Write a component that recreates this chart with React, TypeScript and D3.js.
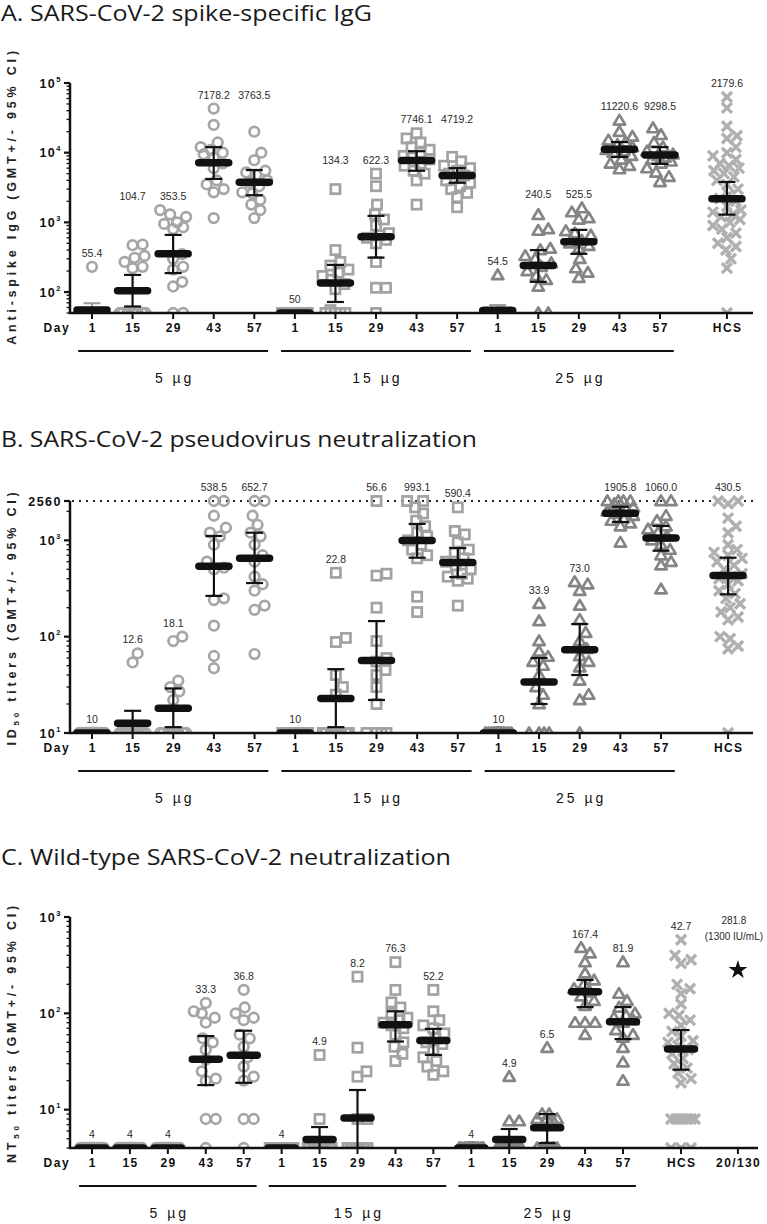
import React from "react";
import * as d3 from "d3";

// ---------- shared categories ----------
const days = ["1", "15", "29", "43", "57"];
const doses = ["5 µg", "15 µg", "25 µg"];

// ---------- A. spike-specific IgG (per dose: days 1,15,29,43,57) ----------
const igg5ug = [
  [230, 50, 50, 50, 50, 50, 50, 50, 50, 50, 50, 50, 50, 50, 50],
  [480, 470, 330, 310, 270, 230, 220, 50, 50, 50, 50, 50, 50, 50, 50],
  [1500, 1300, 1200, 1000, 950, 850, 800, 350, 300, 230, 210, 140, 120, 50, 50],
  [43000, 25000, 14000, 12000, 11000, 10000, 9500, 8500, 7000, 6000, 4000, 3500, 3000, 2700, 1150],
  [20000, 10000, 7800, 5500, 5200, 4800, 4000, 3700, 3300, 2700, 2600, 2100, 1800, 1500, 1150],
];
const igg15ug = [
  [50, 50, 50, 50, 50, 50, 50, 50, 50, 50, 50, 50, 50, 50, 50],
  [3000, 400, 270, 240, 210, 190, 170, 150, 130, 110, 55, 50, 50, 50, 50],
  [5000, 3300, 1800, 1300, 1100, 900, 700, 650, 600, 560, 500, 270, 115, 115, 50],
  [19000, 16000, 14000, 12000, 11000, 10000, 9000, 8500, 8000, 7000, 6500, 5500, 5000, 4000, 1800],
  [8700, 7500, 6500, 6000, 5500, 5000, 4700, 4300, 4000, 3700, 3300, 3000, 2650, 2300, 1650],
];
const igg25ug = [
  [175, 50, 50, 50, 50, 50, 50, 50, 50, 50, 50, 50, 50, 50, 50],
  [1280, 800, 760, 420, 400, 330, 300, 260, 230, 200, 170, 150, 120, 50, 50],
  [1600, 1400, 1150, 1100, 750, 700, 650, 550, 500, 460, 420, 300, 220, 190, 160],
  [29000, 20000, 17000, 15000, 14000, 13000, 12000, 11000, 10500, 10000, 9000, 8000, 7000, 6500, 5800],
  [22500, 18000, 14000, 12000, 10500, 9500, 9000, 8500, 8000, 7500, 7000, 6000, 5200, 4500, 3800],
];
const iggHcs = [
  63000, 44000, 24000, 17500, 16000, 12000, 10000, 9000, 8000, 7000, 6500, 6000, 5500, 5000, 4500, 4000,
  3500, 3000, 2500, 2200, 2000, 1700, 1500, 1400, 1300, 1200, 1100, 1000, 900, 800, 700, 600, 500, 450,
  400, 300, 220, 50,
];
const iggGmt = ["55.4", "104.7", "353.5", "7178.2", "3763.5", "50", "134.3", "622.3", "7746.1", "4719.2", "54.5", "240.5", "525.5", "11220.6", "9298.5", "2179.6"];
const iggLo = [null, 62, 187, 4200, 2450, null, 72, 312, 5500, 3700, null, 140, 353, 8700, 6900, 1290];
const iggHi = [69, 176, 660, 12000, 5640, null, 245, 1240, 10500, 6000, 65, 400, 780, 14200, 12000, 3800];

// ---------- B. pseudovirus ID50 ----------
const pv5ug = [
  [10, 10, 10, 10, 10, 10, 10, 10, 10, 10, 10, 10, 10, 10, 10],
  [67, 54, 10, 10, 10, 10, 10, 10, 10, 10, 10, 10, 10, 10, 10],
  [100, 90, 35, 30, 27, 22, 10, 10, 10, 10, 10, 10, 10, 10, 10],
  [2560, 2560, 1800, 1350, 1200, 1100, 900, 600, 520, 500, 250, 240, 130, 63, 47],
  [2560, 2560, 1800, 1450, 1200, 1100, 900, 700, 600, 420, 350, 300, 210, 190, 66],
];
const pv15ug = [
  [10, 10, 10, 10, 10, 10, 10, 10, 10, 10, 10, 10, 10, 10, 10],
  [460, 97, 88, 40, 30, 25, 10, 10, 10, 10, 10, 10, 10, 10, 10],
  [2560, 450, 430, 200, 90, 60, 55, 45, 40, 30, 20, 10, 10, 10, 10],
  [2560, 2560, 2200, 1900, 1600, 1400, 1200, 1100, 1000, 900, 800, 700, 650, 260, 180],
  [2200, 1250, 1150, 950, 800, 750, 650, 600, 550, 500, 450, 420, 400, 380, 210],
];
const pv25ug = [
  [10, 10, 10, 10, 10, 10, 10, 10, 10, 10, 10, 10, 10, 10, 10],
  [220, 145, 90, 70, 62, 55, 50, 40, 30, 25, 20, 10, 10, 10, 10],
  [370, 350, 300, 210, 150, 110, 90, 75, 63, 55, 48, 35, 25, 22, 10],
  [2560, 2560, 2560, 2560, 2400, 2200, 2100, 2000, 1900, 1800, 1700, 1600, 1500, 1400, 950],
  [2560, 2560, 1800, 1600, 1400, 1300, 1200, 1100, 1000, 900, 800, 700, 600, 550, 310],
];
const pvHcs = [
  2560, 2560, 2400, 1700, 1400, 1200, 900, 800, 750, 700, 650, 600, 550, 500, 450, 420, 400, 380, 350,
  300, 280, 250, 220, 200, 180, 160, 150, 100, 95, 80, 75, 10,
];
const pvGmt = ["10", "12.6", "18.1", "538.5", "652.7", "10", "22.8", "56.6", "993.1", "590.4", "10", "33.9", "73.0", "1905.8", "1060.0", "430.5"];
const pvLo = [null, 9, 11.5, 265, 360, null, 11.5, 22, 660, 415, null, 20, 40, 1550, 780, 275];
const pvHi = [null, 17, 29, 1110, 1200, null, 46, 145, 1480, 830, null, 60, 135, 2230, 1410, 660];

// ---------- C. wild-type NT50 ----------
const wt5ug = [
  [4, 4, 4, 4, 4, 4, 4, 4, 4, 4, 4, 4, 4, 4, 4],
  [4, 4, 4, 4, 4, 4, 4, 4, 4, 4, 4, 4, 4, 4, 4],
  [4, 4, 4, 4, 4, 4, 4, 4, 4, 4, 4, 4, 4, 4, 4],
  [128, 105, 100, 90, 80, 55, 50, 42, 33, 25, 21, 20, 8, 8, 4],
  [175, 115, 100, 90, 85, 60, 55, 45, 35, 28, 22, 20, 8, 8, 4],
];
const wt15ug = [
  [4, 4, 4, 4, 4, 4, 4, 4, 4, 4, 4, 4, 4, 4, 4],
  [37, 8, 4, 4, 4, 4, 4, 4, 4, 4, 4, 4, 4, 4, 4],
  [240, 44, 25, 22, 8, 8, 4, 4, 4, 4, 4, 4, 4, 4, 4],
  [340, 175, 130, 115, 100, 90, 85, 80, 75, 70, 60, 50, 45, 38, 32],
  [175, 105, 85, 75, 70, 62, 55, 50, 48, 42, 35, 32, 28, 25, 23],
];
const wt25ug = [
  [4, 4, 4, 4, 4, 4, 4, 4, 4, 4, 4, 4, 4, 4, 4],
  [22, 7.6, 7.6, 4, 4, 4, 4, 4, 4, 4, 4, 4, 4, 4, 4],
  [44, 9, 9, 8, 8, 8, 8, 4, 4, 4, 4, 4, 4, 4, 4],
  [480, 420, 340, 260, 220, 200, 180, 165, 150, 135, 120, 80, 80, 80, 60],
  [340, 160, 135, 115, 100, 95, 90, 85, 80, 67, 60, 56, 44, 31, 20],
];
const wtHcs = [
  580, 400, 360, 330, 200, 180, 160, 125, 100, 95, 85, 75, 65, 58, 52, 50, 46, 42, 38, 34, 30, 27, 24,
  21, 19, 8, 8, 8, 8, 8, 8, 4, 4, 4,
];
const wtStandard = [281.8];
const wtStandardLabel = ["281.8", "(1300 IU/mL)"];
const wtGmt = ["4", "4", "4", "33.3", "36.8", "4", "4.9", "8.2", "76.3", "52.2", "4", "4.9", "6.5", "167.4", "81.9", "42.7"];
const wtLo = [null, null, null, 18, 19, null, 4, 4, 51, 37, null, 4, 4.5, 116, 54, 26];
const wtHi = [null, null, null, 58, 66, null, 6.6, 16, 105, 69, null, 6.3, 9, 222, 116, 67];

// ---------- helpers ----------
const SANS = "'Liberation Sans', Arial, Helvetica, sans-serif";
const TITLE_FONT = "'Open Sans', Lato, sans-serif";

type Grp = {
  idx: number;
  vals: number[];
  mk: string;
  label: string[];
  lo: number | null;
  hi: number | null;
  gmt: number | null;
  maxOff: number;
};

function swarm(ys: number[], maxOff: number, dist: number): number[] {
  const order = ys.map((y, i) => ({ y, i })).sort((a, b) => b.y - a.y);
  const placed: { x: number; y: number }[] = [];
  const out: number[] = ys.map(() => 0);
  const cands: number[] = [0];
  for (let k = 1; k <= maxOff; k++) cands.push(k, -k);
  for (const p of order) {
    let best = 0;
    let bestD = -1;
    for (const c of cands) {
      let m = Infinity;
      for (const q of placed) {
        const dd = Math.hypot(c - q.x, p.y - q.y);
        if (dd < m) m = dd;
      }
      if (m >= dist) {
        best = c;
        break;
      }
      if (m > bestD + 0.01) {
        bestD = m;
        best = c;
      }
    }
    out[p.i] = best;
    placed.push({ x: best, y: p.y });
  }
  return out;
}

function marker(mk: string, cx: number, cy: number, key: string) {
  switch (mk) {
    case "circle":
      return <circle key={key} cx={cx} cy={cy} r={4.8} fill="none" stroke="#a6a6a6" strokeWidth={2.7} />;
    case "square":
      return <rect key={key} x={cx - 4.6} y={cy - 4.6} width={9.2} height={9.2} fill="none" stroke="#a2a2a2" strokeWidth={2.7} />;
    case "triangle":
      return (
        <path
          key={key}
          d={`M${cx},${cy - 5.6}L${cx + 5.7},${cy + 4.1}L${cx - 5.7},${cy + 4.1}Z`}
          fill="none"
          stroke="#858585"
          strokeWidth={2.7}
          strokeLinejoin="round"
        />
      );
    case "cross":
      return (
        <path
          key={key}
          d={`M${cx - 5},${cy - 5}L${cx + 5},${cy + 5}M${cx + 5},${cy - 5}L${cx - 5},${cy + 5}`}
          stroke="#b0b0b0"
          strokeWidth={3.4}
        />
      );
    default:
      return <path key={key} d={d3.symbol(d3.symbolStar, 110)() || ""} transform={`translate(${cx},${cy})`} fill="#111" />;
  }
}

function buildGroups(
  byDose: number[][][],
  hcs: number[],
  gmt: string[],
  lo: (number | null)[],
  hi: (number | null)[],
  hcsIdx: number,
  doseOff: number,
  hcsOff: number
): Grp[] {
  const mks = ["circle", "square", "triangle"];
  const gs: Grp[] = [];
  byDose.forEach((dose, d) =>
    dose.forEach((vals, k) => {
      const i = d * 5 + k;
      gs.push({ idx: i, vals, mk: mks[d], label: [gmt[i]], lo: lo[i], hi: hi[i], gmt: +gmt[i], maxOff: doseOff });
    })
  );
  gs.push({ idx: hcsIdx, vals: hcs, mk: "cross", label: [gmt[15]], lo: lo[15], hi: hi[15], gmt: +gmt[15], maxOff: hcsOff });
  return gs;
}

type Major = { v: number; exp?: string; text?: string };

interface PanelProps {
  id: string;
  title: string;
  titleY: number;
  titleLen: number;
  domain: number[];
  range: number[];
  x14: number;
  xEnd: number;
  groups: Grp[];
  majors: Major[];
  yTitle: React.ReactNode;
  yTitleShift: number;
  pairLabels: boolean;
  refLine?: number;
  xLabels: { idx: number; text: string }[];
  barHalf: number;
}

function Panel(p: PanelProps) {
  const y = d3.scaleLog().domain(p.domain).range(p.range);
  const x = d3.scaleLinear().domain([0, 14]).range([92, p.x14]);
  const step = (p.x14 - 92) / 14;
  const bottom = p.range[0];
  const top = p.range[1];
  const majorVals = p.majors.map((m) => m.v);
  const minors = y.ticks(20).filter((t) => !majorVals.some((mv) => Math.abs(mv - t) / mv < 1e-6));

  // label positions
  const labelY = p.groups.map((g) => (y(d3.max(g.vals) as number) as number) - 14);
  if (p.pairLabels) {
    for (let d = 0; d < 3; d++) {
      for (const [a, b] of [[1, 2], [3, 4]]) {
        const ia = d * 5 + a;
        const ib = d * 5 + b;
        const m = Math.min(labelY[ia], labelY[ib]);
        labelY[ia] = m;
        labelY[ib] = m;
      }
    }
  }

  const clipId = `clip-${p.id}`;
  const yMid = (top + bottom) / 2 + p.yTitleShift;

  return (
    <g>
      <text
        x={1}
        y={p.titleY}
        fontFamily={TITLE_FONT}
        fontSize={21}
        fill="#1a1a1a"
        textLength={p.titleLen}
        lengthAdjust="spacingAndGlyphs"
      >
        {p.title}
      </text>
      <defs>
        <clipPath id={clipId}>
          <rect x={0} y={top - 40} width={767} height={bottom - top + 40} />
        </clipPath>
      </defs>

      {/* y-axis title */}
      <text
        transform={`translate(16,${yMid}) rotate(-90)`}
        textAnchor="middle"
        fontFamily={SANS}
        fontWeight="bold"
        fontSize={12.5}
        letterSpacing={3.8}
        fill="#222"
      >
        {p.yTitle}
      </text>

      {/* reference line */}
      {p.refLine !== undefined && (
        <line x1={72} x2={753} y1={y(p.refLine)} y2={y(p.refLine)} stroke="#222" strokeWidth={2} strokeDasharray="2 5" />
      )}

      {/* data */}
      <g clipPath={`url(#${clipId})`}>
        {p.groups.map((g, gi) => {
          const cx = x(g.idx);
          const ys = g.vals.map((v) => y(v) as number);
          const offs = swarm(ys, g.maxOff, 10);
          return <g key={`m${gi}`}>{ys.map((yy, k) => marker(g.mk, cx + offs[k], yy, `${gi}-${k}`))}</g>;
        })}
        {p.groups.map((g, gi) => {
          const cx = x(g.idx);
          const els: React.ReactNode[] = [];
          if (g.gmt !== null && g.mk !== "star") {
            if (g.lo !== null && g.hi !== null) {
              els.push(<line key="v" x1={cx} x2={cx} y1={y(g.lo)} y2={y(g.hi)} stroke="#111" strokeWidth={2.2} />);
              els.push(<line key="c1" x1={cx - 8.5} x2={cx + 8.5} y1={y(g.lo)} y2={y(g.lo)} stroke="#111" strokeWidth={2.2} />);
              els.push(<line key="c2" x1={cx - 8.5} x2={cx + 8.5} y1={y(g.hi)} y2={y(g.hi)} stroke="#111" strokeWidth={2.2} />);
            } else if (g.hi !== null) {
              els.push(<line key="v" x1={cx} x2={cx} y1={y(g.gmt)} y2={y(g.hi)} stroke="#9a9a9a" strokeWidth={2} />);
              els.push(<line key="c2" x1={cx - 8.5} x2={cx + 8.5} y1={y(g.hi)} y2={y(g.hi)} stroke="#9a9a9a" strokeWidth={2} />);
            }
            els.push(
              <line
                key="g"
                x1={cx - p.barHalf}
                x2={cx + p.barHalf}
                y1={y(g.gmt)}
                y2={y(g.gmt)}
                stroke="#111"
                strokeWidth={7.5}
                strokeLinecap="round"
              />
            );
          }
          return <g key={`e${gi}`}>{els}</g>;
        })}
      </g>

      {/* value labels */}
      {p.groups.map((g, gi) =>
        g.mk === "star" ? (
          <g key={`l${gi}`}>
            {g.label.map((t, li) => (
              <text
                key={li}
                x={x(g.idx) - 4}
                y={(y(g.vals[0]) as number) - 50 + li * 16 + 4}
                textAnchor="middle"
                fontFamily={SANS}
                fontSize={10}
                fill="#2a2a2a"
              >
                {t}
              </text>
            ))}
          </g>
        ) : (
          <text
            key={`l${gi}`}
            x={x(g.idx)}
            y={labelY[gi] + 4}
            textAnchor="middle"
            fontFamily={SANS}
            fontSize={10.5}
            fill="#2a2a2a"
          >
            {g.label[0]}
          </text>
        )
      )}

      {/* y axis */}
      <line x1={70} x2={70} y1={top} y2={bottom + 1} stroke="#111" strokeWidth={2.5} />
      {minors.map((t, i) => (
        <line key={`mi${i}`} x1={66.5} x2={70} y1={y(t)} y2={y(t)} stroke="#111" strokeWidth={1.3} />
      ))}
      {p.majors.map((m, i) => (
        <g key={`ma${i}`}>
          <line x1={64} x2={70} y1={y(m.v)} y2={y(m.v)} stroke="#111" strokeWidth={2.2} />
          <text
            x={62}
            y={(y(m.v) as number) + 4.5}
            textAnchor="end"
            fontFamily={SANS}
            fontWeight="bold"
            fontSize={12.5}
            letterSpacing={1.5}
            fill="#111"
          >
            {m.text !== undefined ? (
              m.text
            ) : (
              <>
                10
                <tspan fontSize={7.5} dy={-6}>
                  {m.exp}
                </tspan>
              </>
            )}
          </text>
        </g>
      ))}

      {/* x axis */}
      <line x1={69} x2={p.xEnd} y1={bottom} y2={bottom} stroke="#111" strokeWidth={2.5} />
      {p.xLabels.map((l, i) => (
        <g key={`xt${i}`}>
          <line x1={x(l.idx)} x2={x(l.idx)} y1={bottom} y2={bottom + 6} stroke="#111" strokeWidth={2} />
          <text
            x={x(l.idx) + 0.7}
            y={bottom + 19}
            textAnchor="middle"
            fontFamily={SANS}
            fontWeight="bold"
            fontSize={12}
            letterSpacing={1.4}
            fill="#111"
          >
            {l.text}
          </text>
        </g>
      ))}
      <text x={57} y={bottom + 19} textAnchor="middle" fontFamily={SANS} fontWeight="bold" fontSize={12} letterSpacing={1.6} fill="#111">
        Day
      </text>

      {/* dose bars */}
      {doses.map((d, i) => (
        <g key={`d${i}`}>
          <line
            x1={x(i * 5) - step * 0.34}
            x2={x(i * 5 + 4) + step * 0.34}
            y1={bottom + 38}
            y2={bottom + 38}
            stroke="#111"
            strokeWidth={2}
          />
          <text
            x={x(i * 5 + 2) + 1.5}
            y={bottom + 70}
            textAnchor="middle"
            fontFamily={SANS}
            fontSize={14}
            letterSpacing={3}
            fill="#111"
          >
            {d}
          </text>
        </g>
      ))}
    </g>
  );
}

const dayLabels = (extra: { idx: number; text: string }[]) =>
  doses
    .flatMap((_, d) => days.map((t, k) => ({ idx: d * 5 + k, text: t })))
    .concat(extra);

export default function App() {
  const hcsA = 15.65;
  const hcsC = 15.53;
  const stdC = 17.03;

  const groupsA = buildGroups([igg5ug, igg15ug, igg25ug], iggHcs, iggGmt, iggLo, iggHi, hcsA, 13, 14);
  const groupsB = buildGroups([pv5ug, pv15ug, pv25ug], pvHcs, pvGmt, pvLo, pvHi, hcsA, 13, 14);
  const groupsC = buildGroups([wt5ug, wt15ug, wt25ug], wtHcs, wtGmt, wtLo, wtHi, hcsC, 12, 14);
  groupsC.push({ idx: stdC, vals: wtStandard, mk: "star", label: wtStandardLabel, lo: null, hi: null, gmt: null, maxOff: 0 });

  return (
    <svg
      width={767}
      height={1224}
      viewBox="0 0 767 1224"
      style={{ position: "absolute", left: 0, top: 0, background: "#fff" }}
    >
      <rect width={767} height={1224} fill="#fff" />
      <Panel
        id="a"
        title="A. SARS-CoV-2 spike-specific IgG"
        titleY={21}
        titleLen={371}
        domain={[50, 100000]}
        range={[313, 83]}
        x14={660}
        xEnd={753}
        groups={groupsA}
        majors={[
          { v: 100, exp: "2" },
          { v: 1000, exp: "3" },
          { v: 10000, exp: "4" },
          { v: 100000, exp: "5" },
        ]}
        yTitle="Anti-spike IgG (GMT+/- 95% CI)"
        yTitleShift={-2}
        pairLabels={true}
        xLabels={dayLabels([{ idx: hcsA, text: "HCS" }])}
        barHalf={15}
      />
      <Panel
        id="b"
        title="B. SARS-CoV-2 pseudovirus neutralization"
        titleY={447}
        titleLen={476}
        domain={[10, 2560]}
        range={[733, 501]}
        x14={661}
        xEnd={753}
        groups={groupsB}
        majors={[
          { v: 10, exp: "1" },
          { v: 100, exp: "2" },
          { v: 1000, exp: "3" },
          { v: 2560, text: "2560" },
        ]}
        yTitle={
          <>
            ID
            <tspan fontSize={8} dy={3}>
              50
            </tspan>
            <tspan dy={-3}> titers (GMT+/- 95% CI)</tspan>
          </>
        }
        yTitleShift={0}
        pairLabels={false}
        refLine={2560}
        xLabels={dayLabels([{ idx: hcsA, text: "HCS" }])}
        barHalf={15}
      />
      <Panel
        id="c"
        title="C. Wild-type SARS-CoV-2 neutralization"
        titleY={865}
        titleLen={450}
        domain={[4, 1000]}
        range={[1148, 917]}
        x14={623}
        xEnd={758}
        groups={groupsC}
        majors={[
          { v: 10, exp: "1" },
          { v: 100, exp: "2" },
          { v: 1000, exp: "3" },
        ]}
        yTitle={
          <>
            NT
            <tspan fontSize={8} dy={3}>
              50
            </tspan>
            <tspan dy={-3}> titers (GMT+/- 95% CI)</tspan>
          </>
        }
        yTitleShift={0}
        pairLabels={false}
        xLabels={dayLabels([
          { idx: hcsC, text: "HCS" },
          { idx: stdC, text: "20/130" },
        ])}
        barHalf={13.5}
      />
    </svg>
  );
}
